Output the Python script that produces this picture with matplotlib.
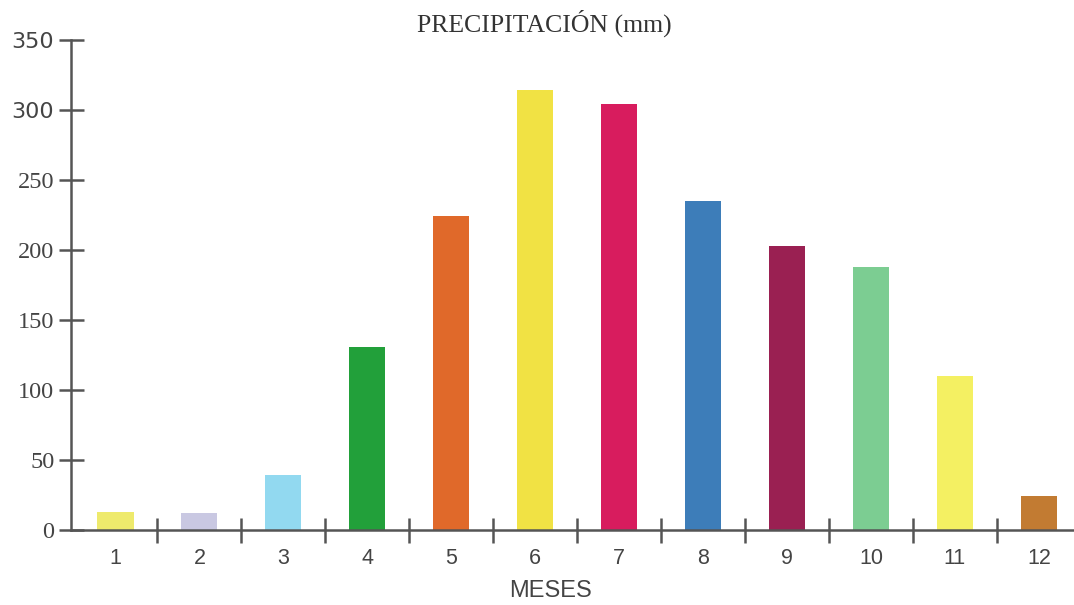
import numpy as np
import matplotlib.pyplot as plt

# Monthly precipitation (mm)
meses = np.arange(1, 13)
precipitacion = [13, 12, 39, 131, 224, 314, 304, 235, 203, 188, 110, 24]
colores = ['#eeea6c', '#c9c8e2', '#92d9f0', '#22a03a', '#e0692a', '#f1e244',
           '#d81c5e', '#3d7db9', '#9a2052', '#7ccd92', '#f4f062', '#c27b32']
yticks = [0, 50, 100, 150, 200, 250, 300, 350]

fig = plt.figure(figsize=(10.74, 6.05), dpi=100)
ax = fig.add_axes([0.0661, 0.124, 0.934, 0.810])

ax.bar(meses, precipitacion, width=0.43, color=colores, zorder=2)

ax.set_xlim(0.47, 12.42)
ax.set_ylim(0, 350)

# axes: only left and bottom
for side in ['top', 'right']:
    ax.spines[side].set_visible(False)
for side in ['left', 'bottom']:
    ax.spines[side].set_color('#555555')
    ax.spines[side].set_linewidth(1.8)
ax.spines['bottom'].set_zorder(3)

# month labels centred between boundary ticks
ax.set_xticks(meses)
ax.set_xticklabels([str(m) for m in meses], fontsize=15.5,
                   family='Liberation Sans', color='#444444')
ax.tick_params(axis='x', which='major', length=0, pad=13)
ax.set_xticks(np.arange(1.5, 12.5, 1), minor=True)
ax.tick_params(axis='x', which='minor', direction='inout', length=18,
               width=1.8, color='#555555')

ax.set_yticks(yticks)
ax.set_yticklabels([str(v) for v in yticks], fontsize=17.5, color='#444444')
for lbl in ax.get_yticklabels():
    if lbl.get_text() in ('300', '350'):
        lbl.set_family('DejaVu Sans')
        lbl.set_fontsize(16)
    else:
        lbl.set_family('Liberation Serif')
ax.tick_params(axis='y', direction='inout', length=18, width=1.8,
               color='#555555', pad=3)

ax.set_xlabel('MESES', fontsize=17, family='Liberation Sans',
              color='#444444')
ax.xaxis.set_label_coords(0.4776, -0.103)
fig.text(0.507, 0.962, 'PRECIPITACIÓN (mm)', ha='center', va='center',
         fontsize=18.5, family='Liberation Serif', color='#333333')

plt.savefig('out.png', dpi=100)
